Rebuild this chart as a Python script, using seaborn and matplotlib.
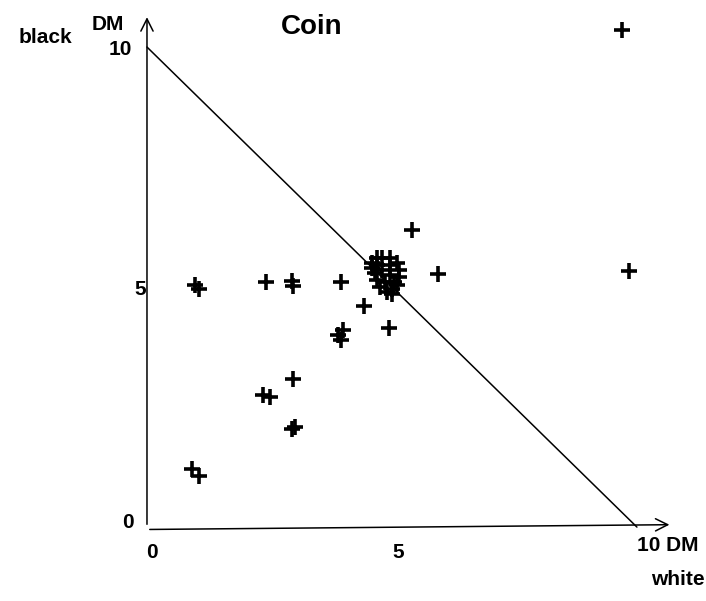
import numpy as np
import seaborn as sns
import matplotlib.pyplot as plt

# amounts (DM) given to white / black
white_dm = [9.69, 9.84, 5.41, 5.94, 3.97, 4.43, 4.94, 3.90, 4.00, 3.96,
            0.98, 1.06, 2.42, 2.96, 2.98, 2.99, 2.37, 2.52, 2.95, 3.03,
            0.92, 1.07,
            4.60, 4.70, 4.80, 4.95, 5.10, 5.15, 5.15, 5.10, 5.00, 4.90,
            4.75, 4.70, 4.65, 4.60, 4.80, 4.95, 5.05, 4.85, 4.70, 4.95, 5.00]
black_dm = [10.35, 5.33, 6.19, 5.27, 5.11, 4.60, 4.15, 4.00, 4.10, 3.90,
            5.04, 4.96, 5.11, 5.13, 5.02, 3.08, 2.75, 2.71, 2.04, 2.08,
            1.20, 1.07,
            5.50, 5.60, 5.60, 5.60, 5.50, 5.35, 5.20, 5.05, 4.95, 4.90,
            5.00, 5.15, 5.30, 5.40, 5.35, 5.25, 5.10, 5.10, 5.45, 5.45, 4.85]

sns.set_style("white")
plt.rcParams['font.family'] = ['Liberation Sans', 'DejaVu Sans']
plt.rcParams['text.color'] = 'black'

fig = plt.figure(figsize=(7.06, 6.01), dpi=100)
ax = fig.add_axes([0, 0, 1, 1])
ax.set_xlim(-3.0, 11.41)
ax.set_ylim(-1.54, 10.98)
ax.axis("off")

# axes with open arrow heads
ax.annotate("", xy=(0, 10.68), xytext=(0, 0),
            arrowprops=dict(arrowstyle="->", lw=1.1, color="black", mutation_scale=22))
ax.annotate("", xy=(10.72, 0.05), xytext=(0, -0.05),
            arrowprops=dict(arrowstyle="->", lw=1.1, color="black", mutation_scale=22))

# equal split line
sns.lineplot(x=[0, 10], y=[10, 0], color="black", linewidth=1.1, ax=ax)

sns.scatterplot(x=white_dm, y=black_dm, marker="+", s=130, linewidth=2.6,
                color="black", ax=ax, legend=False)

tk = dict(fontsize=15, fontweight="bold", color="black")
ax.text(-2.08, 10.19, "black", ha="center", va="center", **tk)
ax.text(-0.80, 10.46, "DM", ha="center", va="center", **tk)
ax.text(-0.55, 9.94, "10", ha="center", va="center", **tk)
ax.text(3.37, 10.42, "Coin", ha="center", va="center", fontsize=20,
        fontweight="bold", color="black")
ax.text(-0.39, 0.10, "0", ha="center", va="center", **tk)
ax.text(-0.14, 4.94, "5", ha="center", va="center", **tk)
ax.text(0.10, -0.54, "0", ha="center", va="center", **tk)
ax.text(5.12, -0.52, "5", ha="center", va="center", **tk)
ax.text(10.63, -0.38, "10 DM", ha="center", va="center", **tk)
ax.text(10.84, -1.10, "white", ha="center", va="center", **tk)

plt.savefig("out.png", dpi=100)
